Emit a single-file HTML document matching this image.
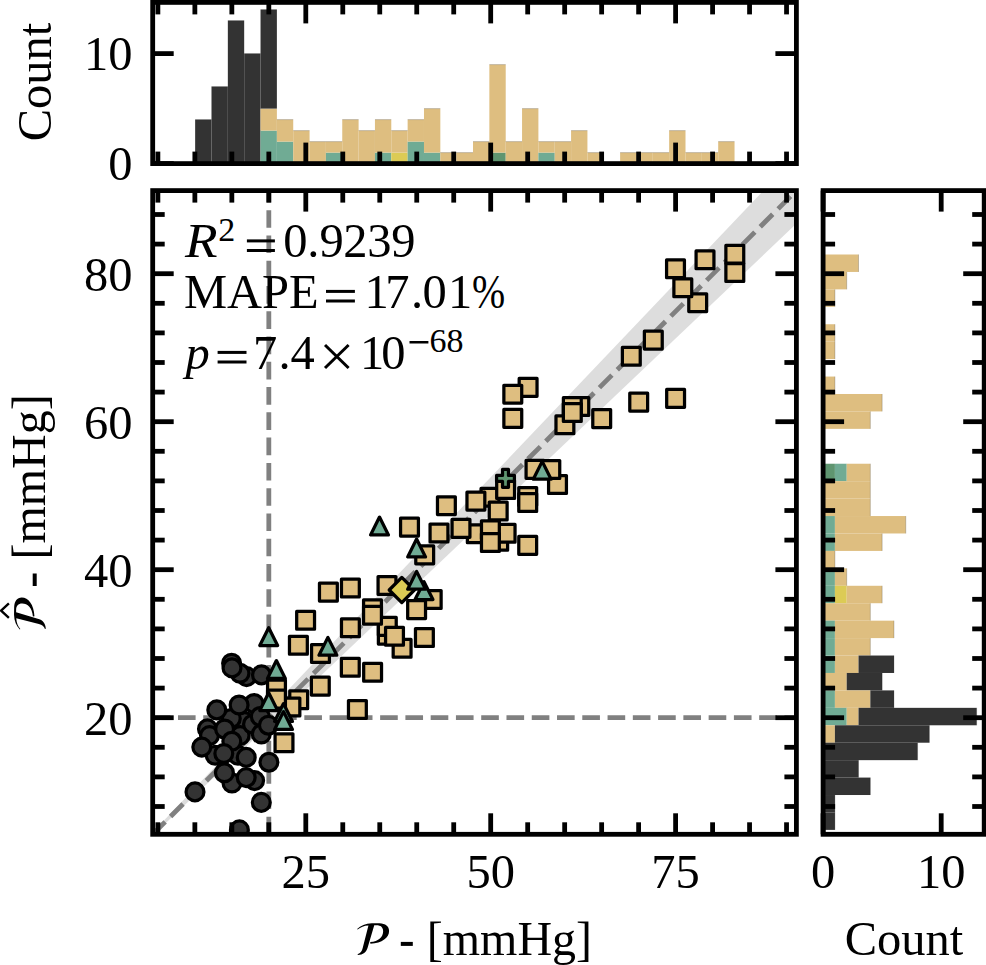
<!DOCTYPE html><html><head><meta charset="utf-8"><style>html,body{margin:0;padding:0;background:#fff;overflow:hidden;}svg{display:block;}</style></head><body><svg width="986" height="965" viewBox="0 0 986 965"><rect width="986" height="965" fill="#fff"/><defs><clipPath id="cm"><rect x="152.7" y="190.6" width="643.7" height="643.7"/></clipPath></defs><rect x="195.15" y="119.6" width="16.34" height="44" fill="#333333"/><rect x="211.5" y="86.6" width="16.34" height="77" fill="#333333"/><rect x="227.84" y="20.6" width="16.34" height="143" fill="#333333"/><rect x="244.19" y="53.6" width="16.34" height="110" fill="#333333"/><rect x="260.53" y="130.6" width="16.35" height="33" fill="#70AB94"/><rect x="260.53" y="108.6" width="16.35" height="22" fill="#DEBE80"/><rect x="260.53" y="9.6" width="16.35" height="99" fill="#333333"/><rect x="276.88" y="141.6" width="16.35" height="22" fill="#70AB94"/><rect x="276.88" y="119.6" width="16.35" height="22" fill="#DEBE80"/><rect x="293.22" y="130.6" width="16.35" height="33" fill="#DEBE80"/><rect x="309.56" y="141.6" width="16.34" height="22" fill="#DEBE80"/><rect x="325.91" y="152.6" width="16.35" height="11" fill="#70AB94"/><rect x="325.91" y="141.6" width="16.35" height="11" fill="#DEBE80"/><rect x="342.25" y="119.6" width="16.35" height="44" fill="#DEBE80"/><rect x="358.6" y="130.6" width="16.35" height="33" fill="#DEBE80"/><rect x="374.94" y="152.6" width="16.34" height="11" fill="#70AB94"/><rect x="374.94" y="119.6" width="16.34" height="33" fill="#DEBE80"/><rect x="391.29" y="152.6" width="16.35" height="11" fill="#DCCB55"/><rect x="391.29" y="130.6" width="16.35" height="22" fill="#DEBE80"/><rect x="407.63" y="141.6" width="16.35" height="22" fill="#70AB94"/><rect x="407.63" y="119.6" width="16.35" height="22" fill="#DEBE80"/><rect x="423.98" y="152.6" width="16.35" height="11" fill="#70AB94"/><rect x="423.98" y="108.6" width="16.35" height="44" fill="#DEBE80"/><rect x="440.32" y="152.6" width="16.34" height="11" fill="#DEBE80"/><rect x="456.67" y="152.6" width="16.35" height="11" fill="#DEBE80"/><rect x="473.01" y="141.6" width="16.35" height="22" fill="#DEBE80"/><rect x="489.36" y="152.6" width="16.35" height="11" fill="#5F9570"/><rect x="489.36" y="64.6" width="16.35" height="88" fill="#DEBE80"/><rect x="505.7" y="141.6" width="16.35" height="22" fill="#DEBE80"/><rect x="522.05" y="108.6" width="16.35" height="55" fill="#DEBE80"/><rect x="538.39" y="152.6" width="16.35" height="11" fill="#70AB94"/><rect x="538.39" y="141.6" width="16.35" height="11" fill="#DEBE80"/><rect x="554.74" y="141.6" width="16.35" height="22" fill="#DEBE80"/><rect x="571.08" y="130.6" width="16.35" height="33" fill="#DEBE80"/><rect x="587.43" y="152.6" width="16.35" height="11" fill="#DEBE80"/><rect x="620.12" y="152.6" width="16.35" height="11" fill="#DEBE80"/><rect x="636.46" y="152.6" width="16.35" height="11" fill="#DEBE80"/><rect x="652.81" y="152.6" width="16.35" height="11" fill="#DEBE80"/><rect x="669.15" y="130.6" width="16.35" height="33" fill="#DEBE80"/><rect x="685.5" y="152.6" width="16.35" height="11" fill="#DEBE80"/><rect x="701.84" y="152.6" width="16.35" height="11" fill="#DEBE80"/><rect x="718.19" y="141.6" width="16.35" height="22" fill="#DEBE80"/><rect x="823.1" y="254.5" width="35.43" height="17.44" fill="#DEBE80"/><rect x="823.1" y="271.94" width="23.62" height="17.44" fill="#DEBE80"/><rect x="823.1" y="289.37" width="11.81" height="17.44" fill="#DEBE80"/><rect x="823.1" y="324.24" width="11.81" height="17.44" fill="#DEBE80"/><rect x="823.1" y="341.68" width="11.81" height="17.44" fill="#DEBE80"/><rect x="823.1" y="376.55" width="11.81" height="17.44" fill="#DEBE80"/><rect x="823.1" y="393.99" width="59.05" height="17.44" fill="#DEBE80"/><rect x="823.1" y="411.42" width="47.24" height="17.44" fill="#DEBE80"/><rect x="823.1" y="463.73" width="11.81" height="17.44" fill="#5F9570"/><rect x="834.91" y="463.73" width="11.81" height="17.44" fill="#70AB94"/><rect x="846.72" y="463.73" width="23.62" height="17.44" fill="#DEBE80"/><rect x="823.1" y="481.17" width="47.24" height="17.44" fill="#DEBE80"/><rect x="823.1" y="498.6" width="47.24" height="17.44" fill="#DEBE80"/><rect x="823.1" y="516.04" width="11.81" height="17.44" fill="#70AB94"/><rect x="834.91" y="516.04" width="70.86" height="17.44" fill="#DEBE80"/><rect x="823.1" y="533.48" width="11.81" height="17.44" fill="#70AB94"/><rect x="834.91" y="533.48" width="47.24" height="17.44" fill="#DEBE80"/><rect x="823.1" y="550.91" width="11.81" height="17.44" fill="#DEBE80"/><rect x="823.1" y="568.35" width="11.81" height="17.44" fill="#70AB94"/><rect x="834.91" y="568.35" width="11.81" height="17.44" fill="#DEBE80"/><rect x="823.1" y="585.78" width="11.81" height="17.44" fill="#70AB94"/><rect x="834.91" y="585.78" width="11.81" height="17.44" fill="#DCCB55"/><rect x="846.72" y="585.78" width="35.43" height="17.44" fill="#DEBE80"/><rect x="823.1" y="603.22" width="47.24" height="17.44" fill="#DEBE80"/><rect x="823.1" y="620.66" width="11.81" height="17.44" fill="#70AB94"/><rect x="834.91" y="620.66" width="59.05" height="17.44" fill="#DEBE80"/><rect x="823.1" y="638.09" width="11.81" height="17.44" fill="#70AB94"/><rect x="834.91" y="638.09" width="35.43" height="17.44" fill="#DEBE80"/><rect x="823.1" y="655.53" width="11.81" height="17.44" fill="#70AB94"/><rect x="834.91" y="655.53" width="23.62" height="17.44" fill="#DEBE80"/><rect x="858.53" y="655.53" width="35.43" height="17.44" fill="#333333"/><rect x="823.1" y="672.96" width="23.62" height="17.44" fill="#DEBE80"/><rect x="846.72" y="672.96" width="35.43" height="17.44" fill="#333333"/><rect x="823.1" y="690.4" width="11.81" height="17.44" fill="#70AB94"/><rect x="834.91" y="690.4" width="35.43" height="17.44" fill="#DEBE80"/><rect x="870.34" y="690.4" width="23.62" height="17.44" fill="#333333"/><rect x="823.1" y="707.84" width="23.62" height="17.44" fill="#70AB94"/><rect x="846.72" y="707.84" width="11.81" height="17.44" fill="#DEBE80"/><rect x="858.53" y="707.84" width="118.1" height="17.44" fill="#333333"/><rect x="823.1" y="725.27" width="11.81" height="17.44" fill="#DEBE80"/><rect x="834.91" y="725.27" width="94.48" height="17.44" fill="#333333"/><rect x="823.1" y="742.71" width="94.48" height="17.44" fill="#333333"/><rect x="823.1" y="760.14" width="35.43" height="17.44" fill="#333333"/><rect x="823.1" y="777.58" width="47.24" height="17.44" fill="#333333"/><rect x="823.1" y="795.02" width="11.81" height="17.44" fill="#333333"/><rect x="823.1" y="812.45" width="11.81" height="17.44" fill="#333333"/><line x1="195.15" y1="119.6" x2="211.5" y2="119.6" stroke="rgba(0,0,0,0.28)" stroke-width="0.7" stroke-linecap="butt"/><line x1="211.5" y1="86.6" x2="227.84" y2="86.6" stroke="rgba(0,0,0,0.28)" stroke-width="0.7" stroke-linecap="butt"/><line x1="227.84" y1="20.6" x2="244.19" y2="20.6" stroke="rgba(0,0,0,0.28)" stroke-width="0.7" stroke-linecap="butt"/><line x1="244.19" y1="53.6" x2="260.53" y2="53.6" stroke="rgba(0,0,0,0.28)" stroke-width="0.7" stroke-linecap="butt"/><line x1="260.53" y1="9.6" x2="276.88" y2="9.6" stroke="rgba(0,0,0,0.28)" stroke-width="0.7" stroke-linecap="butt"/><line x1="276.88" y1="119.6" x2="293.22" y2="119.6" stroke="rgba(0,0,0,0.28)" stroke-width="0.7" stroke-linecap="butt"/><line x1="293.22" y1="130.6" x2="309.57" y2="130.6" stroke="rgba(0,0,0,0.28)" stroke-width="0.7" stroke-linecap="butt"/><line x1="309.56" y1="141.6" x2="325.91" y2="141.6" stroke="rgba(0,0,0,0.28)" stroke-width="0.7" stroke-linecap="butt"/><line x1="325.91" y1="141.6" x2="342.25" y2="141.6" stroke="rgba(0,0,0,0.28)" stroke-width="0.7" stroke-linecap="butt"/><line x1="342.25" y1="119.6" x2="358.6" y2="119.6" stroke="rgba(0,0,0,0.28)" stroke-width="0.7" stroke-linecap="butt"/><line x1="358.6" y1="130.6" x2="374.95" y2="130.6" stroke="rgba(0,0,0,0.28)" stroke-width="0.7" stroke-linecap="butt"/><line x1="374.94" y1="119.6" x2="391.29" y2="119.6" stroke="rgba(0,0,0,0.28)" stroke-width="0.7" stroke-linecap="butt"/><line x1="391.29" y1="130.6" x2="407.63" y2="130.6" stroke="rgba(0,0,0,0.28)" stroke-width="0.7" stroke-linecap="butt"/><line x1="407.63" y1="119.6" x2="423.98" y2="119.6" stroke="rgba(0,0,0,0.28)" stroke-width="0.7" stroke-linecap="butt"/><line x1="423.98" y1="108.6" x2="440.33" y2="108.6" stroke="rgba(0,0,0,0.28)" stroke-width="0.7" stroke-linecap="butt"/><line x1="440.32" y1="152.6" x2="456.67" y2="152.6" stroke="rgba(0,0,0,0.28)" stroke-width="0.7" stroke-linecap="butt"/><line x1="456.67" y1="152.6" x2="473.01" y2="152.6" stroke="rgba(0,0,0,0.28)" stroke-width="0.7" stroke-linecap="butt"/><line x1="473.01" y1="141.6" x2="489.36" y2="141.6" stroke="rgba(0,0,0,0.28)" stroke-width="0.7" stroke-linecap="butt"/><line x1="489.36" y1="64.6" x2="505.71" y2="64.6" stroke="rgba(0,0,0,0.28)" stroke-width="0.7" stroke-linecap="butt"/><line x1="505.7" y1="141.6" x2="522.05" y2="141.6" stroke="rgba(0,0,0,0.28)" stroke-width="0.7" stroke-linecap="butt"/><line x1="522.05" y1="108.6" x2="538.39" y2="108.6" stroke="rgba(0,0,0,0.28)" stroke-width="0.7" stroke-linecap="butt"/><line x1="538.39" y1="141.6" x2="554.74" y2="141.6" stroke="rgba(0,0,0,0.28)" stroke-width="0.7" stroke-linecap="butt"/><line x1="554.74" y1="141.6" x2="571.09" y2="141.6" stroke="rgba(0,0,0,0.28)" stroke-width="0.7" stroke-linecap="butt"/><line x1="571.08" y1="130.6" x2="587.43" y2="130.6" stroke="rgba(0,0,0,0.28)" stroke-width="0.7" stroke-linecap="butt"/><line x1="587.43" y1="152.6" x2="603.77" y2="152.6" stroke="rgba(0,0,0,0.28)" stroke-width="0.7" stroke-linecap="butt"/><line x1="620.12" y1="152.6" x2="636.47" y2="152.6" stroke="rgba(0,0,0,0.28)" stroke-width="0.7" stroke-linecap="butt"/><line x1="636.46" y1="152.6" x2="652.81" y2="152.6" stroke="rgba(0,0,0,0.28)" stroke-width="0.7" stroke-linecap="butt"/><line x1="652.81" y1="152.6" x2="669.15" y2="152.6" stroke="rgba(0,0,0,0.28)" stroke-width="0.7" stroke-linecap="butt"/><line x1="669.15" y1="130.6" x2="685.5" y2="130.6" stroke="rgba(0,0,0,0.28)" stroke-width="0.7" stroke-linecap="butt"/><line x1="685.5" y1="152.6" x2="701.85" y2="152.6" stroke="rgba(0,0,0,0.28)" stroke-width="0.7" stroke-linecap="butt"/><line x1="701.84" y1="152.6" x2="718.19" y2="152.6" stroke="rgba(0,0,0,0.28)" stroke-width="0.7" stroke-linecap="butt"/><line x1="718.19" y1="141.6" x2="734.53" y2="141.6" stroke="rgba(0,0,0,0.28)" stroke-width="0.7" stroke-linecap="butt"/><line x1="858.53" y1="254.5" x2="858.53" y2="271.94" stroke="rgba(0,0,0,0.28)" stroke-width="0.7" stroke-linecap="butt"/><line x1="846.72" y1="271.94" x2="846.72" y2="289.37" stroke="rgba(0,0,0,0.28)" stroke-width="0.7" stroke-linecap="butt"/><line x1="834.91" y1="289.37" x2="834.91" y2="306.81" stroke="rgba(0,0,0,0.28)" stroke-width="0.7" stroke-linecap="butt"/><line x1="834.91" y1="324.24" x2="834.91" y2="341.68" stroke="rgba(0,0,0,0.28)" stroke-width="0.7" stroke-linecap="butt"/><line x1="834.91" y1="341.68" x2="834.91" y2="359.12" stroke="rgba(0,0,0,0.28)" stroke-width="0.7" stroke-linecap="butt"/><line x1="834.91" y1="376.55" x2="834.91" y2="393.99" stroke="rgba(0,0,0,0.28)" stroke-width="0.7" stroke-linecap="butt"/><line x1="882.15" y1="393.99" x2="882.15" y2="411.42" stroke="rgba(0,0,0,0.28)" stroke-width="0.7" stroke-linecap="butt"/><line x1="870.34" y1="411.42" x2="870.34" y2="428.86" stroke="rgba(0,0,0,0.28)" stroke-width="0.7" stroke-linecap="butt"/><line x1="870.34" y1="463.73" x2="870.34" y2="481.17" stroke="rgba(0,0,0,0.28)" stroke-width="0.7" stroke-linecap="butt"/><line x1="870.34" y1="481.17" x2="870.34" y2="498.6" stroke="rgba(0,0,0,0.28)" stroke-width="0.7" stroke-linecap="butt"/><line x1="870.34" y1="498.6" x2="870.34" y2="516.04" stroke="rgba(0,0,0,0.28)" stroke-width="0.7" stroke-linecap="butt"/><line x1="905.77" y1="516.04" x2="905.77" y2="533.48" stroke="rgba(0,0,0,0.28)" stroke-width="0.7" stroke-linecap="butt"/><line x1="882.15" y1="533.48" x2="882.15" y2="550.91" stroke="rgba(0,0,0,0.28)" stroke-width="0.7" stroke-linecap="butt"/><line x1="834.91" y1="550.91" x2="834.91" y2="568.35" stroke="rgba(0,0,0,0.28)" stroke-width="0.7" stroke-linecap="butt"/><line x1="846.72" y1="568.35" x2="846.72" y2="585.78" stroke="rgba(0,0,0,0.28)" stroke-width="0.7" stroke-linecap="butt"/><line x1="882.15" y1="585.78" x2="882.15" y2="603.22" stroke="rgba(0,0,0,0.28)" stroke-width="0.7" stroke-linecap="butt"/><line x1="870.34" y1="603.22" x2="870.34" y2="620.66" stroke="rgba(0,0,0,0.28)" stroke-width="0.7" stroke-linecap="butt"/><line x1="893.96" y1="620.66" x2="893.96" y2="638.09" stroke="rgba(0,0,0,0.28)" stroke-width="0.7" stroke-linecap="butt"/><line x1="870.34" y1="638.09" x2="870.34" y2="655.53" stroke="rgba(0,0,0,0.28)" stroke-width="0.7" stroke-linecap="butt"/><line x1="893.96" y1="655.53" x2="893.96" y2="672.96" stroke="rgba(0,0,0,0.28)" stroke-width="0.7" stroke-linecap="butt"/><line x1="882.15" y1="672.96" x2="882.15" y2="690.4" stroke="rgba(0,0,0,0.28)" stroke-width="0.7" stroke-linecap="butt"/><line x1="893.96" y1="690.4" x2="893.96" y2="707.84" stroke="rgba(0,0,0,0.28)" stroke-width="0.7" stroke-linecap="butt"/><line x1="976.63" y1="707.84" x2="976.63" y2="725.27" stroke="rgba(0,0,0,0.28)" stroke-width="0.7" stroke-linecap="butt"/><line x1="929.39" y1="725.27" x2="929.39" y2="742.71" stroke="rgba(0,0,0,0.28)" stroke-width="0.7" stroke-linecap="butt"/><line x1="917.58" y1="742.71" x2="917.58" y2="760.14" stroke="rgba(0,0,0,0.28)" stroke-width="0.7" stroke-linecap="butt"/><line x1="858.53" y1="760.14" x2="858.53" y2="777.58" stroke="rgba(0,0,0,0.28)" stroke-width="0.7" stroke-linecap="butt"/><line x1="870.34" y1="777.58" x2="870.34" y2="795.02" stroke="rgba(0,0,0,0.28)" stroke-width="0.7" stroke-linecap="butt"/><line x1="834.91" y1="795.02" x2="834.91" y2="812.45" stroke="rgba(0,0,0,0.28)" stroke-width="0.7" stroke-linecap="butt"/><line x1="834.91" y1="812.45" x2="834.91" y2="829.89" stroke="rgba(0,0,0,0.28)" stroke-width="0.7" stroke-linecap="butt"/><g clip-path="url(#cm)"><polygon points="143.09,842.39 823.52,127.55 823.52,197.85 143.09,844.61" fill="#DDDDDD"/><line x1="152.7" y1="834.3" x2="796.4" y2="190.6" stroke="#808080" stroke-width="4.8" stroke-linecap="butt" stroke-dasharray="17.64 7.63"/><line x1="268.82" y1="834.3" x2="268.82" y2="190.6" stroke="#808080" stroke-width="4.8" stroke-linecap="butt" stroke-dasharray="17.64 7.63"/><line x1="152.7" y1="717.7" x2="796.4" y2="717.7" stroke="#808080" stroke-width="4.8" stroke-linecap="butt" stroke-dasharray="17.64 7.63"/><text x="184.9" y="257.3" text-anchor="start" style="font-family:'Liberation Serif',serif;font-size:48.5px;font-style:italic;" textLength="32.6" lengthAdjust="spacingAndGlyphs">R</text><text x="218.23" y="241" text-anchor="start" style="font-family:'Liberation Serif',serif;font-size:34px;">2</text><rect x="246.9" y="239.4" width="28" height="3" fill="#000"/><rect x="246.9" y="249" width="28" height="3" fill="#000"/><text x="283.2" y="257.3" text-anchor="start" style="font-family:'Liberation Serif',serif;font-size:48.5px;">0</text><text x="307.3" y="257.3" text-anchor="start" style="font-family:'Liberation Serif',serif;font-size:48.5px;">.</text><text x="319.6" y="257.3" text-anchor="start" style="font-family:'Liberation Serif',serif;font-size:48.5px;">9</text><text x="343.2" y="257.3" text-anchor="start" style="font-family:'Liberation Serif',serif;font-size:48.5px;">2</text><text x="367.2" y="257.3" text-anchor="start" style="font-family:'Liberation Serif',serif;font-size:48.5px;">3</text><text x="391.3" y="257.3" text-anchor="start" style="font-family:'Liberation Serif',serif;font-size:48.5px;">9</text><text x="183.9" y="307.8" text-anchor="start" style="font-family:'Liberation Serif',serif;font-size:48.5px;">MAPE</text><rect x="326" y="289.9" width="28.9" height="3" fill="#000"/><rect x="326" y="299.5" width="28.9" height="3" fill="#000"/><text x="364.6" y="307.8" text-anchor="start" style="font-family:'Liberation Serif',serif;font-size:48.5px;">1</text><text x="385.2" y="307.8" text-anchor="start" style="font-family:'Liberation Serif',serif;font-size:48.5px;">7</text><text x="411.1" y="307.8" text-anchor="start" style="font-family:'Liberation Serif',serif;font-size:48.5px;">.</text><text x="422.6" y="307.8" text-anchor="start" style="font-family:'Liberation Serif',serif;font-size:48.5px;">0</text><text x="448" y="307.8" text-anchor="start" style="font-family:'Liberation Serif',serif;font-size:48.5px;">1</text><text x="472" y="307.8" text-anchor="start" style="font-family:'Liberation Serif',serif;font-size:48.5px;" textLength="33.2" lengthAdjust="spacingAndGlyphs">%</text><text x="185.4" y="368.8" text-anchor="start" style="font-family:'Liberation Serif',serif;font-size:48.5px;font-style:italic;">p</text><rect x="217.6" y="350.9" width="28.9" height="3" fill="#000"/><rect x="217.6" y="360.5" width="28.9" height="3" fill="#000"/><text x="253" y="368.8" text-anchor="start" style="font-family:'Liberation Serif',serif;font-size:48.5px;">7</text><text x="278.4" y="368.8" text-anchor="start" style="font-family:'Liberation Serif',serif;font-size:48.5px;">.</text><text x="290.5" y="368.8" text-anchor="start" style="font-family:'Liberation Serif',serif;font-size:48.5px;">4</text><text x="360.1" y="368.8" text-anchor="start" style="font-family:'Liberation Serif',serif;font-size:48.5px;">1</text><text x="381.3" y="368.8" text-anchor="start" style="font-family:'Liberation Serif',serif;font-size:48.5px;">0</text><line x1="325" y1="345" x2="348.6" y2="368" stroke="#000" stroke-width="3" stroke-linecap="butt"/><line x1="325" y1="368" x2="348.6" y2="345" stroke="#000" stroke-width="3" stroke-linecap="butt"/><rect x="409.5" y="341" width="18.9" height="2.5" fill="#000"/><text x="429.53" y="351.5" text-anchor="start" style="font-family:'Liberation Serif',serif;font-size:34px;">6</text><text x="446.44" y="351.5" text-anchor="start" style="font-family:'Liberation Serif',serif;font-size:34px;">8</text><circle cx="246.6" cy="676.6" r="8.93" fill="#333333" stroke="#000" stroke-width="3.25"/><circle cx="240" cy="673.3" r="8.93" fill="#333333" stroke="#000" stroke-width="3.25"/><circle cx="231.6" cy="663.2" r="8.93" fill="#333333" stroke="#000" stroke-width="3.25"/><circle cx="232" cy="667.9" r="8.93" fill="#333333" stroke="#000" stroke-width="3.25"/><circle cx="261.5" cy="674.9" r="8.93" fill="#333333" stroke="#000" stroke-width="3.25"/><circle cx="254.1" cy="703.5" r="8.93" fill="#333333" stroke="#000" stroke-width="3.25"/><circle cx="244.5" cy="721.5" r="8.93" fill="#333333" stroke="#000" stroke-width="3.25"/><circle cx="231.3" cy="718.5" r="8.93" fill="#333333" stroke="#000" stroke-width="3.25"/><circle cx="207.5" cy="728.9" r="8.93" fill="#333333" stroke="#000" stroke-width="3.25"/><circle cx="209.5" cy="735.6" r="8.93" fill="#333333" stroke="#000" stroke-width="3.25"/><circle cx="240.1" cy="735.6" r="8.93" fill="#333333" stroke="#000" stroke-width="3.25"/><circle cx="252.5" cy="724.2" r="8.93" fill="#333333" stroke="#000" stroke-width="3.25"/><circle cx="260.3" cy="716.5" r="8.93" fill="#333333" stroke="#000" stroke-width="3.25"/><circle cx="261.3" cy="734" r="8.93" fill="#333333" stroke="#000" stroke-width="3.25"/><circle cx="215.2" cy="755.3" r="8.93" fill="#333333" stroke="#000" stroke-width="3.25"/><circle cx="238" cy="755.3" r="8.93" fill="#333333" stroke="#000" stroke-width="3.25"/><circle cx="254.6" cy="780.6" r="8.93" fill="#333333" stroke="#000" stroke-width="3.25"/><circle cx="232" cy="783" r="8.93" fill="#333333" stroke="#000" stroke-width="3.25"/><circle cx="239.1" cy="705" r="8.93" fill="#333333" stroke="#000" stroke-width="3.25"/><circle cx="216.8" cy="709.9" r="8.93" fill="#333333" stroke="#000" stroke-width="3.25"/><circle cx="224.6" cy="729" r="8.93" fill="#333333" stroke="#000" stroke-width="3.25"/><circle cx="201.8" cy="747.1" r="8.93" fill="#333333" stroke="#000" stroke-width="3.25"/><circle cx="231.8" cy="741.3" r="8.93" fill="#333333" stroke="#000" stroke-width="3.25"/><circle cx="268.4" cy="725.2" r="8.93" fill="#333333" stroke="#000" stroke-width="3.25"/><circle cx="223.8" cy="753.5" r="8.93" fill="#333333" stroke="#000" stroke-width="3.25"/><circle cx="246.2" cy="757.4" r="8.93" fill="#333333" stroke="#000" stroke-width="3.25"/><circle cx="268.9" cy="762.2" r="8.93" fill="#333333" stroke="#000" stroke-width="3.25"/><circle cx="224.4" cy="772.8" r="8.93" fill="#333333" stroke="#000" stroke-width="3.25"/><circle cx="246.2" cy="777.6" r="8.93" fill="#333333" stroke="#000" stroke-width="3.25"/><circle cx="195" cy="791.9" r="8.93" fill="#333333" stroke="#000" stroke-width="3.25"/><circle cx="261.3" cy="802.4" r="8.93" fill="#333333" stroke="#000" stroke-width="3.25"/><circle cx="239.4" cy="829.9" r="8.93" fill="#333333" stroke="#000" stroke-width="3.25"/><rect x="666.58" y="259.88" width="17.85" height="17.85" fill="#DEBE80" stroke="#000" stroke-width="3.25" stroke-linejoin="round"/><rect x="696.08" y="250.88" width="17.85" height="17.85" fill="#DEBE80" stroke="#000" stroke-width="3.25" stroke-linejoin="round"/><rect x="725.88" y="245.38" width="17.85" height="17.85" fill="#DEBE80" stroke="#000" stroke-width="3.25" stroke-linejoin="round"/><rect x="725.88" y="263.57" width="17.85" height="17.85" fill="#DEBE80" stroke="#000" stroke-width="3.25" stroke-linejoin="round"/><rect x="688.78" y="293.77" width="17.85" height="17.85" fill="#DEBE80" stroke="#000" stroke-width="3.25" stroke-linejoin="round"/><rect x="673.88" y="278.88" width="17.85" height="17.85" fill="#DEBE80" stroke="#000" stroke-width="3.25" stroke-linejoin="round"/><rect x="644.38" y="331.18" width="17.85" height="17.85" fill="#DEBE80" stroke="#000" stroke-width="3.25" stroke-linejoin="round"/><rect x="622.38" y="347.38" width="17.85" height="17.85" fill="#DEBE80" stroke="#000" stroke-width="3.25" stroke-linejoin="round"/><rect x="629.78" y="393.18" width="17.85" height="17.85" fill="#DEBE80" stroke="#000" stroke-width="3.25" stroke-linejoin="round"/><rect x="666.68" y="389.47" width="17.85" height="17.85" fill="#DEBE80" stroke="#000" stroke-width="3.25" stroke-linejoin="round"/><rect x="592.78" y="409.68" width="17.85" height="17.85" fill="#DEBE80" stroke="#000" stroke-width="3.25" stroke-linejoin="round"/><rect x="570.88" y="397.57" width="17.85" height="17.85" fill="#DEBE80" stroke="#000" stroke-width="3.25" stroke-linejoin="round"/><rect x="563.38" y="397.68" width="17.85" height="17.85" fill="#DEBE80" stroke="#000" stroke-width="3.25" stroke-linejoin="round"/><rect x="555.98" y="415.88" width="17.85" height="17.85" fill="#DEBE80" stroke="#000" stroke-width="3.25" stroke-linejoin="round"/><rect x="563.38" y="403.57" width="17.85" height="17.85" fill="#DEBE80" stroke="#000" stroke-width="3.25" stroke-linejoin="round"/><rect x="519.18" y="378.47" width="17.85" height="17.85" fill="#DEBE80" stroke="#000" stroke-width="3.25" stroke-linejoin="round"/><rect x="503.87" y="385.27" width="17.85" height="17.85" fill="#DEBE80" stroke="#000" stroke-width="3.25" stroke-linejoin="round"/><rect x="503.87" y="409.47" width="17.85" height="17.85" fill="#DEBE80" stroke="#000" stroke-width="3.25" stroke-linejoin="round"/><rect x="548.58" y="475.57" width="17.85" height="17.85" fill="#DEBE80" stroke="#000" stroke-width="3.25" stroke-linejoin="round"/><rect x="526.08" y="460.47" width="17.85" height="17.85" fill="#DEBE80" stroke="#000" stroke-width="3.25" stroke-linejoin="round"/><rect x="541.88" y="460.57" width="17.85" height="17.85" fill="#DEBE80" stroke="#000" stroke-width="3.25" stroke-linejoin="round"/><rect x="481.07" y="488.27" width="17.85" height="17.85" fill="#DEBE80" stroke="#000" stroke-width="3.25" stroke-linejoin="round"/><rect x="496.68" y="480.57" width="17.85" height="17.85" fill="#DEBE80" stroke="#000" stroke-width="3.25" stroke-linejoin="round"/><rect x="518.78" y="487.57" width="17.85" height="17.85" fill="#DEBE80" stroke="#000" stroke-width="3.25" stroke-linejoin="round"/><rect x="518.78" y="493.57" width="17.85" height="17.85" fill="#DEBE80" stroke="#000" stroke-width="3.25" stroke-linejoin="round"/><rect x="466.97" y="492.18" width="17.85" height="17.85" fill="#DEBE80" stroke="#000" stroke-width="3.25" stroke-linejoin="round"/><rect x="489.27" y="502.07" width="17.85" height="17.85" fill="#DEBE80" stroke="#000" stroke-width="3.25" stroke-linejoin="round"/><rect x="437.47" y="496.77" width="17.85" height="17.85" fill="#DEBE80" stroke="#000" stroke-width="3.25" stroke-linejoin="round"/><rect x="400.57" y="518.18" width="17.85" height="17.85" fill="#DEBE80" stroke="#000" stroke-width="3.25" stroke-linejoin="round"/><rect x="430.07" y="524.08" width="17.85" height="17.85" fill="#DEBE80" stroke="#000" stroke-width="3.25" stroke-linejoin="round"/><rect x="467.38" y="524.88" width="17.85" height="17.85" fill="#DEBE80" stroke="#000" stroke-width="3.25" stroke-linejoin="round"/><rect x="452.07" y="519.48" width="17.85" height="17.85" fill="#DEBE80" stroke="#000" stroke-width="3.25" stroke-linejoin="round"/><rect x="489.77" y="532.38" width="17.85" height="17.85" fill="#DEBE80" stroke="#000" stroke-width="3.25" stroke-linejoin="round"/><rect x="497.18" y="524.38" width="17.85" height="17.85" fill="#DEBE80" stroke="#000" stroke-width="3.25" stroke-linejoin="round"/><rect x="481.47" y="520.78" width="17.85" height="17.85" fill="#DEBE80" stroke="#000" stroke-width="3.25" stroke-linejoin="round"/><rect x="481.47" y="533.58" width="17.85" height="17.85" fill="#DEBE80" stroke="#000" stroke-width="3.25" stroke-linejoin="round"/><rect x="518.78" y="536.48" width="17.85" height="17.85" fill="#DEBE80" stroke="#000" stroke-width="3.25" stroke-linejoin="round"/><rect x="415.77" y="545.98" width="17.85" height="17.85" fill="#DEBE80" stroke="#000" stroke-width="3.25" stroke-linejoin="round"/><rect x="423.27" y="590.58" width="17.85" height="17.85" fill="#DEBE80" stroke="#000" stroke-width="3.25" stroke-linejoin="round"/><rect x="407.68" y="600.68" width="17.85" height="17.85" fill="#DEBE80" stroke="#000" stroke-width="3.25" stroke-linejoin="round"/><rect x="378.07" y="576.58" width="17.85" height="17.85" fill="#DEBE80" stroke="#000" stroke-width="3.25" stroke-linejoin="round"/><rect x="341.47" y="579.08" width="17.85" height="17.85" fill="#DEBE80" stroke="#000" stroke-width="3.25" stroke-linejoin="round"/><rect x="319.47" y="583.18" width="17.85" height="17.85" fill="#DEBE80" stroke="#000" stroke-width="3.25" stroke-linejoin="round"/><rect x="378.38" y="626.18" width="17.85" height="17.85" fill="#DEBE80" stroke="#000" stroke-width="3.25" stroke-linejoin="round"/><rect x="378.38" y="617.48" width="17.85" height="17.85" fill="#DEBE80" stroke="#000" stroke-width="3.25" stroke-linejoin="round"/><rect x="363.57" y="599.88" width="17.85" height="17.85" fill="#DEBE80" stroke="#000" stroke-width="3.25" stroke-linejoin="round"/><rect x="363.57" y="606.28" width="17.85" height="17.85" fill="#DEBE80" stroke="#000" stroke-width="3.25" stroke-linejoin="round"/><rect x="393.18" y="639.38" width="17.85" height="17.85" fill="#DEBE80" stroke="#000" stroke-width="3.25" stroke-linejoin="round"/><rect x="385.57" y="627.28" width="17.85" height="17.85" fill="#DEBE80" stroke="#000" stroke-width="3.25" stroke-linejoin="round"/><rect x="415.47" y="628.58" width="17.85" height="17.85" fill="#DEBE80" stroke="#000" stroke-width="3.25" stroke-linejoin="round"/><rect x="341.47" y="618.88" width="17.85" height="17.85" fill="#DEBE80" stroke="#000" stroke-width="3.25" stroke-linejoin="round"/><rect x="296.68" y="611.38" width="17.85" height="17.85" fill="#DEBE80" stroke="#000" stroke-width="3.25" stroke-linejoin="round"/><rect x="289.47" y="636.28" width="17.85" height="17.85" fill="#DEBE80" stroke="#000" stroke-width="3.25" stroke-linejoin="round"/><rect x="311.57" y="644.58" width="17.85" height="17.85" fill="#DEBE80" stroke="#000" stroke-width="3.25" stroke-linejoin="round"/><rect x="341.38" y="658.38" width="17.85" height="17.85" fill="#DEBE80" stroke="#000" stroke-width="3.25" stroke-linejoin="round"/><rect x="363.68" y="663.38" width="17.85" height="17.85" fill="#DEBE80" stroke="#000" stroke-width="3.25" stroke-linejoin="round"/><rect x="311.38" y="677.18" width="17.85" height="17.85" fill="#DEBE80" stroke="#000" stroke-width="3.25" stroke-linejoin="round"/><rect x="348.47" y="700.58" width="17.85" height="17.85" fill="#DEBE80" stroke="#000" stroke-width="3.25" stroke-linejoin="round"/><rect x="289.77" y="690.88" width="17.85" height="17.85" fill="#DEBE80" stroke="#000" stroke-width="3.25" stroke-linejoin="round"/><rect x="281.97" y="698.08" width="17.85" height="17.85" fill="#DEBE80" stroke="#000" stroke-width="3.25" stroke-linejoin="round"/><rect x="267.57" y="680.18" width="17.85" height="17.85" fill="#DEBE80" stroke="#000" stroke-width="3.25" stroke-linejoin="round"/><rect x="267.57" y="690.18" width="17.85" height="17.85" fill="#DEBE80" stroke="#000" stroke-width="3.25" stroke-linejoin="round"/><rect x="275.07" y="733.78" width="17.85" height="17.85" fill="#DEBE80" stroke="#000" stroke-width="3.25" stroke-linejoin="round"/><polygon points="401.8,577.38 414.42,590 401.8,602.62 389.18,590" fill="#DCCB55" stroke="#000" stroke-width="3.25" stroke-linejoin="round"/><polygon points="268.7,627.68 259.77,645.52 277.62,645.52" fill="#70AB94" stroke="#000" stroke-width="3.25" stroke-linejoin="round"/><polygon points="276.4,660.58 267.47,678.42 285.32,678.42" fill="#70AB94" stroke="#000" stroke-width="3.25" stroke-linejoin="round"/><polygon points="268.7,692.68 259.77,710.52 277.62,710.52" fill="#70AB94" stroke="#000" stroke-width="3.25" stroke-linejoin="round"/><polygon points="283.5,703.58 274.57,721.42 292.43,721.42" fill="#70AB94" stroke="#000" stroke-width="3.25" stroke-linejoin="round"/><polygon points="283.5,711.58 274.57,729.42 292.43,729.42" fill="#70AB94" stroke="#000" stroke-width="3.25" stroke-linejoin="round"/><polygon points="327.9,637.38 318.97,655.22 336.82,655.22" fill="#70AB94" stroke="#000" stroke-width="3.25" stroke-linejoin="round"/><polygon points="379.5,517.08 370.57,534.92 388.43,534.92" fill="#70AB94" stroke="#000" stroke-width="3.25" stroke-linejoin="round"/><polygon points="416.6,539.08 407.68,556.92 425.53,556.92" fill="#70AB94" stroke="#000" stroke-width="3.25" stroke-linejoin="round"/><polygon points="424,581.68 415.07,599.52 432.93,599.52" fill="#70AB94" stroke="#000" stroke-width="3.25" stroke-linejoin="round"/><polygon points="416.6,571.38 407.68,589.22 425.53,589.22" fill="#70AB94" stroke="#000" stroke-width="3.25" stroke-linejoin="round"/><polygon points="542.2,461.38 533.28,479.23 551.12,479.23" fill="#70AB94" stroke="#000" stroke-width="3.25" stroke-linejoin="round"/><polygon points="502.52,469.47 508.48,469.47 508.48,475.42 514.42,475.42 514.42,481.38 508.48,481.38 508.48,487.32 502.52,487.32 502.52,481.38 496.57,481.38 496.57,475.42 502.52,475.42" fill="#5F9570" stroke="#000" stroke-width="3.25" stroke-linejoin="round"/></g><line x1="305.8" y1="163.6" x2="305.8" y2="142.6" stroke="#000" stroke-width="4.8" stroke-linecap="butt"/><line x1="305.8" y1="2.4" x2="305.8" y2="23.4" stroke="#000" stroke-width="4.8" stroke-linecap="butt"/><line x1="490.7" y1="163.6" x2="490.7" y2="142.6" stroke="#000" stroke-width="4.8" stroke-linecap="butt"/><line x1="490.7" y1="2.4" x2="490.7" y2="23.4" stroke="#000" stroke-width="4.8" stroke-linecap="butt"/><line x1="675.6" y1="163.6" x2="675.6" y2="142.6" stroke="#000" stroke-width="4.8" stroke-linecap="butt"/><line x1="675.6" y1="2.4" x2="675.6" y2="23.4" stroke="#000" stroke-width="4.8" stroke-linecap="butt"/><line x1="157.88" y1="163.6" x2="157.88" y2="151.6" stroke="#000" stroke-width="4.8" stroke-linecap="butt"/><line x1="157.88" y1="2.4" x2="157.88" y2="14.4" stroke="#000" stroke-width="4.8" stroke-linecap="butt"/><line x1="194.86" y1="163.6" x2="194.86" y2="151.6" stroke="#000" stroke-width="4.8" stroke-linecap="butt"/><line x1="194.86" y1="2.4" x2="194.86" y2="14.4" stroke="#000" stroke-width="4.8" stroke-linecap="butt"/><line x1="231.84" y1="163.6" x2="231.84" y2="151.6" stroke="#000" stroke-width="4.8" stroke-linecap="butt"/><line x1="231.84" y1="2.4" x2="231.84" y2="14.4" stroke="#000" stroke-width="4.8" stroke-linecap="butt"/><line x1="268.82" y1="163.6" x2="268.82" y2="151.6" stroke="#000" stroke-width="4.8" stroke-linecap="butt"/><line x1="268.82" y1="2.4" x2="268.82" y2="14.4" stroke="#000" stroke-width="4.8" stroke-linecap="butt"/><line x1="342.78" y1="163.6" x2="342.78" y2="151.6" stroke="#000" stroke-width="4.8" stroke-linecap="butt"/><line x1="342.78" y1="2.4" x2="342.78" y2="14.4" stroke="#000" stroke-width="4.8" stroke-linecap="butt"/><line x1="379.76" y1="163.6" x2="379.76" y2="151.6" stroke="#000" stroke-width="4.8" stroke-linecap="butt"/><line x1="379.76" y1="2.4" x2="379.76" y2="14.4" stroke="#000" stroke-width="4.8" stroke-linecap="butt"/><line x1="416.74" y1="163.6" x2="416.74" y2="151.6" stroke="#000" stroke-width="4.8" stroke-linecap="butt"/><line x1="416.74" y1="2.4" x2="416.74" y2="14.4" stroke="#000" stroke-width="4.8" stroke-linecap="butt"/><line x1="453.72" y1="163.6" x2="453.72" y2="151.6" stroke="#000" stroke-width="4.8" stroke-linecap="butt"/><line x1="453.72" y1="2.4" x2="453.72" y2="14.4" stroke="#000" stroke-width="4.8" stroke-linecap="butt"/><line x1="527.68" y1="163.6" x2="527.68" y2="151.6" stroke="#000" stroke-width="4.8" stroke-linecap="butt"/><line x1="527.68" y1="2.4" x2="527.68" y2="14.4" stroke="#000" stroke-width="4.8" stroke-linecap="butt"/><line x1="564.66" y1="163.6" x2="564.66" y2="151.6" stroke="#000" stroke-width="4.8" stroke-linecap="butt"/><line x1="564.66" y1="2.4" x2="564.66" y2="14.4" stroke="#000" stroke-width="4.8" stroke-linecap="butt"/><line x1="601.64" y1="163.6" x2="601.64" y2="151.6" stroke="#000" stroke-width="4.8" stroke-linecap="butt"/><line x1="601.64" y1="2.4" x2="601.64" y2="14.4" stroke="#000" stroke-width="4.8" stroke-linecap="butt"/><line x1="638.62" y1="163.6" x2="638.62" y2="151.6" stroke="#000" stroke-width="4.8" stroke-linecap="butt"/><line x1="638.62" y1="2.4" x2="638.62" y2="14.4" stroke="#000" stroke-width="4.8" stroke-linecap="butt"/><line x1="712.58" y1="163.6" x2="712.58" y2="151.6" stroke="#000" stroke-width="4.8" stroke-linecap="butt"/><line x1="712.58" y1="2.4" x2="712.58" y2="14.4" stroke="#000" stroke-width="4.8" stroke-linecap="butt"/><line x1="749.56" y1="163.6" x2="749.56" y2="151.6" stroke="#000" stroke-width="4.8" stroke-linecap="butt"/><line x1="749.56" y1="2.4" x2="749.56" y2="14.4" stroke="#000" stroke-width="4.8" stroke-linecap="butt"/><line x1="786.54" y1="163.6" x2="786.54" y2="151.6" stroke="#000" stroke-width="4.8" stroke-linecap="butt"/><line x1="786.54" y1="2.4" x2="786.54" y2="14.4" stroke="#000" stroke-width="4.8" stroke-linecap="butt"/><line x1="305.8" y1="834.3" x2="305.8" y2="813.3" stroke="#000" stroke-width="4.8" stroke-linecap="butt"/><line x1="305.8" y1="190.6" x2="305.8" y2="211.6" stroke="#000" stroke-width="4.8" stroke-linecap="butt"/><line x1="490.7" y1="834.3" x2="490.7" y2="813.3" stroke="#000" stroke-width="4.8" stroke-linecap="butt"/><line x1="490.7" y1="190.6" x2="490.7" y2="211.6" stroke="#000" stroke-width="4.8" stroke-linecap="butt"/><line x1="675.6" y1="834.3" x2="675.6" y2="813.3" stroke="#000" stroke-width="4.8" stroke-linecap="butt"/><line x1="675.6" y1="190.6" x2="675.6" y2="211.6" stroke="#000" stroke-width="4.8" stroke-linecap="butt"/><line x1="157.88" y1="834.3" x2="157.88" y2="822.3" stroke="#000" stroke-width="4.8" stroke-linecap="butt"/><line x1="157.88" y1="190.6" x2="157.88" y2="202.6" stroke="#000" stroke-width="4.8" stroke-linecap="butt"/><line x1="194.86" y1="834.3" x2="194.86" y2="822.3" stroke="#000" stroke-width="4.8" stroke-linecap="butt"/><line x1="194.86" y1="190.6" x2="194.86" y2="202.6" stroke="#000" stroke-width="4.8" stroke-linecap="butt"/><line x1="231.84" y1="834.3" x2="231.84" y2="822.3" stroke="#000" stroke-width="4.8" stroke-linecap="butt"/><line x1="231.84" y1="190.6" x2="231.84" y2="202.6" stroke="#000" stroke-width="4.8" stroke-linecap="butt"/><line x1="268.82" y1="834.3" x2="268.82" y2="822.3" stroke="#000" stroke-width="4.8" stroke-linecap="butt"/><line x1="268.82" y1="190.6" x2="268.82" y2="202.6" stroke="#000" stroke-width="4.8" stroke-linecap="butt"/><line x1="342.78" y1="834.3" x2="342.78" y2="822.3" stroke="#000" stroke-width="4.8" stroke-linecap="butt"/><line x1="342.78" y1="190.6" x2="342.78" y2="202.6" stroke="#000" stroke-width="4.8" stroke-linecap="butt"/><line x1="379.76" y1="834.3" x2="379.76" y2="822.3" stroke="#000" stroke-width="4.8" stroke-linecap="butt"/><line x1="379.76" y1="190.6" x2="379.76" y2="202.6" stroke="#000" stroke-width="4.8" stroke-linecap="butt"/><line x1="416.74" y1="834.3" x2="416.74" y2="822.3" stroke="#000" stroke-width="4.8" stroke-linecap="butt"/><line x1="416.74" y1="190.6" x2="416.74" y2="202.6" stroke="#000" stroke-width="4.8" stroke-linecap="butt"/><line x1="453.72" y1="834.3" x2="453.72" y2="822.3" stroke="#000" stroke-width="4.8" stroke-linecap="butt"/><line x1="453.72" y1="190.6" x2="453.72" y2="202.6" stroke="#000" stroke-width="4.8" stroke-linecap="butt"/><line x1="527.68" y1="834.3" x2="527.68" y2="822.3" stroke="#000" stroke-width="4.8" stroke-linecap="butt"/><line x1="527.68" y1="190.6" x2="527.68" y2="202.6" stroke="#000" stroke-width="4.8" stroke-linecap="butt"/><line x1="564.66" y1="834.3" x2="564.66" y2="822.3" stroke="#000" stroke-width="4.8" stroke-linecap="butt"/><line x1="564.66" y1="190.6" x2="564.66" y2="202.6" stroke="#000" stroke-width="4.8" stroke-linecap="butt"/><line x1="601.64" y1="834.3" x2="601.64" y2="822.3" stroke="#000" stroke-width="4.8" stroke-linecap="butt"/><line x1="601.64" y1="190.6" x2="601.64" y2="202.6" stroke="#000" stroke-width="4.8" stroke-linecap="butt"/><line x1="638.62" y1="834.3" x2="638.62" y2="822.3" stroke="#000" stroke-width="4.8" stroke-linecap="butt"/><line x1="638.62" y1="190.6" x2="638.62" y2="202.6" stroke="#000" stroke-width="4.8" stroke-linecap="butt"/><line x1="712.58" y1="834.3" x2="712.58" y2="822.3" stroke="#000" stroke-width="4.8" stroke-linecap="butt"/><line x1="712.58" y1="190.6" x2="712.58" y2="202.6" stroke="#000" stroke-width="4.8" stroke-linecap="butt"/><line x1="749.56" y1="834.3" x2="749.56" y2="822.3" stroke="#000" stroke-width="4.8" stroke-linecap="butt"/><line x1="749.56" y1="190.6" x2="749.56" y2="202.6" stroke="#000" stroke-width="4.8" stroke-linecap="butt"/><line x1="786.54" y1="834.3" x2="786.54" y2="822.3" stroke="#000" stroke-width="4.8" stroke-linecap="butt"/><line x1="786.54" y1="190.6" x2="786.54" y2="202.6" stroke="#000" stroke-width="4.8" stroke-linecap="butt"/><line x1="152.7" y1="717.7" x2="173.7" y2="717.7" stroke="#000" stroke-width="4.8" stroke-linecap="butt"/><line x1="796.4" y1="717.7" x2="775.4" y2="717.7" stroke="#000" stroke-width="4.8" stroke-linecap="butt"/><line x1="152.7" y1="569.7" x2="173.7" y2="569.7" stroke="#000" stroke-width="4.8" stroke-linecap="butt"/><line x1="796.4" y1="569.7" x2="775.4" y2="569.7" stroke="#000" stroke-width="4.8" stroke-linecap="butt"/><line x1="152.7" y1="421.7" x2="173.7" y2="421.7" stroke="#000" stroke-width="4.8" stroke-linecap="butt"/><line x1="796.4" y1="421.7" x2="775.4" y2="421.7" stroke="#000" stroke-width="4.8" stroke-linecap="butt"/><line x1="152.7" y1="273.7" x2="173.7" y2="273.7" stroke="#000" stroke-width="4.8" stroke-linecap="butt"/><line x1="796.4" y1="273.7" x2="775.4" y2="273.7" stroke="#000" stroke-width="4.8" stroke-linecap="butt"/><line x1="152.7" y1="806.5" x2="164.7" y2="806.5" stroke="#000" stroke-width="4.8" stroke-linecap="butt"/><line x1="796.4" y1="806.5" x2="784.4" y2="806.5" stroke="#000" stroke-width="4.8" stroke-linecap="butt"/><line x1="152.7" y1="776.9" x2="164.7" y2="776.9" stroke="#000" stroke-width="4.8" stroke-linecap="butt"/><line x1="796.4" y1="776.9" x2="784.4" y2="776.9" stroke="#000" stroke-width="4.8" stroke-linecap="butt"/><line x1="152.7" y1="747.3" x2="164.7" y2="747.3" stroke="#000" stroke-width="4.8" stroke-linecap="butt"/><line x1="796.4" y1="747.3" x2="784.4" y2="747.3" stroke="#000" stroke-width="4.8" stroke-linecap="butt"/><line x1="152.7" y1="688.1" x2="164.7" y2="688.1" stroke="#000" stroke-width="4.8" stroke-linecap="butt"/><line x1="796.4" y1="688.1" x2="784.4" y2="688.1" stroke="#000" stroke-width="4.8" stroke-linecap="butt"/><line x1="152.7" y1="658.5" x2="164.7" y2="658.5" stroke="#000" stroke-width="4.8" stroke-linecap="butt"/><line x1="796.4" y1="658.5" x2="784.4" y2="658.5" stroke="#000" stroke-width="4.8" stroke-linecap="butt"/><line x1="152.7" y1="628.9" x2="164.7" y2="628.9" stroke="#000" stroke-width="4.8" stroke-linecap="butt"/><line x1="796.4" y1="628.9" x2="784.4" y2="628.9" stroke="#000" stroke-width="4.8" stroke-linecap="butt"/><line x1="152.7" y1="599.3" x2="164.7" y2="599.3" stroke="#000" stroke-width="4.8" stroke-linecap="butt"/><line x1="796.4" y1="599.3" x2="784.4" y2="599.3" stroke="#000" stroke-width="4.8" stroke-linecap="butt"/><line x1="152.7" y1="540.1" x2="164.7" y2="540.1" stroke="#000" stroke-width="4.8" stroke-linecap="butt"/><line x1="796.4" y1="540.1" x2="784.4" y2="540.1" stroke="#000" stroke-width="4.8" stroke-linecap="butt"/><line x1="152.7" y1="510.5" x2="164.7" y2="510.5" stroke="#000" stroke-width="4.8" stroke-linecap="butt"/><line x1="796.4" y1="510.5" x2="784.4" y2="510.5" stroke="#000" stroke-width="4.8" stroke-linecap="butt"/><line x1="152.7" y1="480.9" x2="164.7" y2="480.9" stroke="#000" stroke-width="4.8" stroke-linecap="butt"/><line x1="796.4" y1="480.9" x2="784.4" y2="480.9" stroke="#000" stroke-width="4.8" stroke-linecap="butt"/><line x1="152.7" y1="451.3" x2="164.7" y2="451.3" stroke="#000" stroke-width="4.8" stroke-linecap="butt"/><line x1="796.4" y1="451.3" x2="784.4" y2="451.3" stroke="#000" stroke-width="4.8" stroke-linecap="butt"/><line x1="152.7" y1="392.1" x2="164.7" y2="392.1" stroke="#000" stroke-width="4.8" stroke-linecap="butt"/><line x1="796.4" y1="392.1" x2="784.4" y2="392.1" stroke="#000" stroke-width="4.8" stroke-linecap="butt"/><line x1="152.7" y1="362.5" x2="164.7" y2="362.5" stroke="#000" stroke-width="4.8" stroke-linecap="butt"/><line x1="796.4" y1="362.5" x2="784.4" y2="362.5" stroke="#000" stroke-width="4.8" stroke-linecap="butt"/><line x1="152.7" y1="332.9" x2="164.7" y2="332.9" stroke="#000" stroke-width="4.8" stroke-linecap="butt"/><line x1="796.4" y1="332.9" x2="784.4" y2="332.9" stroke="#000" stroke-width="4.8" stroke-linecap="butt"/><line x1="152.7" y1="303.3" x2="164.7" y2="303.3" stroke="#000" stroke-width="4.8" stroke-linecap="butt"/><line x1="796.4" y1="303.3" x2="784.4" y2="303.3" stroke="#000" stroke-width="4.8" stroke-linecap="butt"/><line x1="152.7" y1="244.1" x2="164.7" y2="244.1" stroke="#000" stroke-width="4.8" stroke-linecap="butt"/><line x1="796.4" y1="244.1" x2="784.4" y2="244.1" stroke="#000" stroke-width="4.8" stroke-linecap="butt"/><line x1="152.7" y1="214.5" x2="164.7" y2="214.5" stroke="#000" stroke-width="4.8" stroke-linecap="butt"/><line x1="796.4" y1="214.5" x2="784.4" y2="214.5" stroke="#000" stroke-width="4.8" stroke-linecap="butt"/><line x1="823.1" y1="717.7" x2="844.1" y2="717.7" stroke="#000" stroke-width="4.8" stroke-linecap="butt"/><line x1="984.2" y1="717.7" x2="963.2" y2="717.7" stroke="#000" stroke-width="4.8" stroke-linecap="butt"/><line x1="823.1" y1="569.7" x2="844.1" y2="569.7" stroke="#000" stroke-width="4.8" stroke-linecap="butt"/><line x1="984.2" y1="569.7" x2="963.2" y2="569.7" stroke="#000" stroke-width="4.8" stroke-linecap="butt"/><line x1="823.1" y1="421.7" x2="844.1" y2="421.7" stroke="#000" stroke-width="4.8" stroke-linecap="butt"/><line x1="984.2" y1="421.7" x2="963.2" y2="421.7" stroke="#000" stroke-width="4.8" stroke-linecap="butt"/><line x1="823.1" y1="273.7" x2="844.1" y2="273.7" stroke="#000" stroke-width="4.8" stroke-linecap="butt"/><line x1="984.2" y1="273.7" x2="963.2" y2="273.7" stroke="#000" stroke-width="4.8" stroke-linecap="butt"/><line x1="823.1" y1="806.5" x2="835.1" y2="806.5" stroke="#000" stroke-width="4.8" stroke-linecap="butt"/><line x1="984.2" y1="806.5" x2="972.2" y2="806.5" stroke="#000" stroke-width="4.8" stroke-linecap="butt"/><line x1="823.1" y1="776.9" x2="835.1" y2="776.9" stroke="#000" stroke-width="4.8" stroke-linecap="butt"/><line x1="984.2" y1="776.9" x2="972.2" y2="776.9" stroke="#000" stroke-width="4.8" stroke-linecap="butt"/><line x1="823.1" y1="747.3" x2="835.1" y2="747.3" stroke="#000" stroke-width="4.8" stroke-linecap="butt"/><line x1="984.2" y1="747.3" x2="972.2" y2="747.3" stroke="#000" stroke-width="4.8" stroke-linecap="butt"/><line x1="823.1" y1="688.1" x2="835.1" y2="688.1" stroke="#000" stroke-width="4.8" stroke-linecap="butt"/><line x1="984.2" y1="688.1" x2="972.2" y2="688.1" stroke="#000" stroke-width="4.8" stroke-linecap="butt"/><line x1="823.1" y1="658.5" x2="835.1" y2="658.5" stroke="#000" stroke-width="4.8" stroke-linecap="butt"/><line x1="984.2" y1="658.5" x2="972.2" y2="658.5" stroke="#000" stroke-width="4.8" stroke-linecap="butt"/><line x1="823.1" y1="628.9" x2="835.1" y2="628.9" stroke="#000" stroke-width="4.8" stroke-linecap="butt"/><line x1="984.2" y1="628.9" x2="972.2" y2="628.9" stroke="#000" stroke-width="4.8" stroke-linecap="butt"/><line x1="823.1" y1="599.3" x2="835.1" y2="599.3" stroke="#000" stroke-width="4.8" stroke-linecap="butt"/><line x1="984.2" y1="599.3" x2="972.2" y2="599.3" stroke="#000" stroke-width="4.8" stroke-linecap="butt"/><line x1="823.1" y1="540.1" x2="835.1" y2="540.1" stroke="#000" stroke-width="4.8" stroke-linecap="butt"/><line x1="984.2" y1="540.1" x2="972.2" y2="540.1" stroke="#000" stroke-width="4.8" stroke-linecap="butt"/><line x1="823.1" y1="510.5" x2="835.1" y2="510.5" stroke="#000" stroke-width="4.8" stroke-linecap="butt"/><line x1="984.2" y1="510.5" x2="972.2" y2="510.5" stroke="#000" stroke-width="4.8" stroke-linecap="butt"/><line x1="823.1" y1="480.9" x2="835.1" y2="480.9" stroke="#000" stroke-width="4.8" stroke-linecap="butt"/><line x1="984.2" y1="480.9" x2="972.2" y2="480.9" stroke="#000" stroke-width="4.8" stroke-linecap="butt"/><line x1="823.1" y1="451.3" x2="835.1" y2="451.3" stroke="#000" stroke-width="4.8" stroke-linecap="butt"/><line x1="984.2" y1="451.3" x2="972.2" y2="451.3" stroke="#000" stroke-width="4.8" stroke-linecap="butt"/><line x1="823.1" y1="392.1" x2="835.1" y2="392.1" stroke="#000" stroke-width="4.8" stroke-linecap="butt"/><line x1="984.2" y1="392.1" x2="972.2" y2="392.1" stroke="#000" stroke-width="4.8" stroke-linecap="butt"/><line x1="823.1" y1="362.5" x2="835.1" y2="362.5" stroke="#000" stroke-width="4.8" stroke-linecap="butt"/><line x1="984.2" y1="362.5" x2="972.2" y2="362.5" stroke="#000" stroke-width="4.8" stroke-linecap="butt"/><line x1="823.1" y1="332.9" x2="835.1" y2="332.9" stroke="#000" stroke-width="4.8" stroke-linecap="butt"/><line x1="984.2" y1="332.9" x2="972.2" y2="332.9" stroke="#000" stroke-width="4.8" stroke-linecap="butt"/><line x1="823.1" y1="303.3" x2="835.1" y2="303.3" stroke="#000" stroke-width="4.8" stroke-linecap="butt"/><line x1="984.2" y1="303.3" x2="972.2" y2="303.3" stroke="#000" stroke-width="4.8" stroke-linecap="butt"/><line x1="823.1" y1="244.1" x2="835.1" y2="244.1" stroke="#000" stroke-width="4.8" stroke-linecap="butt"/><line x1="984.2" y1="244.1" x2="972.2" y2="244.1" stroke="#000" stroke-width="4.8" stroke-linecap="butt"/><line x1="823.1" y1="214.5" x2="835.1" y2="214.5" stroke="#000" stroke-width="4.8" stroke-linecap="butt"/><line x1="984.2" y1="214.5" x2="972.2" y2="214.5" stroke="#000" stroke-width="4.8" stroke-linecap="butt"/><line x1="152.7" y1="163.6" x2="173.7" y2="163.6" stroke="#000" stroke-width="4.8" stroke-linecap="butt"/><line x1="796.4" y1="163.6" x2="775.4" y2="163.6" stroke="#000" stroke-width="4.8" stroke-linecap="butt"/><line x1="152.7" y1="53.6" x2="173.7" y2="53.6" stroke="#000" stroke-width="4.8" stroke-linecap="butt"/><line x1="796.4" y1="53.6" x2="775.4" y2="53.6" stroke="#000" stroke-width="4.8" stroke-linecap="butt"/><line x1="823.1" y1="834.3" x2="823.1" y2="813.3" stroke="#000" stroke-width="4.8" stroke-linecap="butt"/><line x1="823.1" y1="190.6" x2="823.1" y2="211.6" stroke="#000" stroke-width="4.8" stroke-linecap="butt"/><line x1="941.2" y1="834.3" x2="941.2" y2="813.3" stroke="#000" stroke-width="4.8" stroke-linecap="butt"/><line x1="941.2" y1="190.6" x2="941.2" y2="211.6" stroke="#000" stroke-width="4.8" stroke-linecap="butt"/><rect x="152.7" y="2.4" width="643.7" height="161.2" fill="none" stroke="#000" stroke-width="4.8"/><rect x="152.7" y="190.6" width="643.7" height="643.7" fill="none" stroke="#000" stroke-width="4.8"/><rect x="823.1" y="190.6" width="161.1" height="643.7" fill="none" stroke="#000" stroke-width="4.8"/><text x="305.8" y="887.9" text-anchor="middle" style="font-family:'Liberation Serif',serif;font-size:48.5px;">25</text><text x="490.7" y="887.9" text-anchor="middle" style="font-family:'Liberation Serif',serif;font-size:48.5px;">50</text><text x="675.6" y="887.9" text-anchor="middle" style="font-family:'Liberation Serif',serif;font-size:48.5px;">75</text><text x="823.1" y="887.9" text-anchor="middle" style="font-family:'Liberation Serif',serif;font-size:48.5px;">0</text><text x="941.2" y="887.9" text-anchor="middle" style="font-family:'Liberation Serif',serif;font-size:48.5px;">10</text><text x="132.4" y="734.5" text-anchor="end" style="font-family:'Liberation Serif',serif;font-size:48.5px;">20</text><text x="132.4" y="586.5" text-anchor="end" style="font-family:'Liberation Serif',serif;font-size:48.5px;">40</text><text x="132.4" y="438.5" text-anchor="end" style="font-family:'Liberation Serif',serif;font-size:48.5px;">60</text><text x="132.4" y="290.5" text-anchor="end" style="font-family:'Liberation Serif',serif;font-size:48.5px;">80</text><text x="132.4" y="69.9" text-anchor="end" style="font-family:'Liberation Serif',serif;font-size:48.5px;">10</text><text x="132.4" y="179.9" text-anchor="end" style="font-family:'Liberation Serif',serif;font-size:48.5px;">0</text><text x="904" y="955.2" text-anchor="middle" style="font-family:'Liberation Serif',serif;font-size:48.5px;">Count</text><text transform="translate(50.6,82.0) rotate(-90)" text-anchor="middle" style="font-family:'Liberation Serif',serif;font-size:48.5px;">Count</text><path transform="translate(357.1,954.5) scale(0.07) translate(-100,-626.83)" d="M 100 262 C 150 215 220 182 310 180 L 420 182 C 505 185 557 225 557 290 C 557 385 460 462 290 472 L 287 450 C 410 440 472 375 472 295 C 472 240 440 210 375 210 L 345 210 L 250 530 C 232 595 185 630 112 634 L 106 622 C 150 610 168 580 180 535 L 262 212 C 200 214 150 235 108 270 Z" fill="#000"/><rect x="400.8" y="941.9" width="12" height="4" fill="#000"/><text x="426.8" y="954.5" text-anchor="start" style="font-family:'Liberation Serif',serif;font-size:48.5px;" textLength="165.2" lengthAdjust="spacingAndGlyphs">[mmHg]</text><g transform="translate(45.3,0) rotate(-90)"><path transform="translate(-629.5,0) scale(0.07) translate(-100,-626.83)" d="M 100 262 C 150 215 220 182 310 180 L 420 182 C 505 185 557 225 557 290 C 557 385 460 462 290 472 L 287 450 C 410 440 472 375 472 295 C 472 240 440 210 375 210 L 345 210 L 250 530 C 232 595 185 630 112 634 L 106 622 C 150 610 168 580 180 535 L 262 212 C 200 214 150 235 108 270 Z" fill="#000"/><path d="M -617.8 -36.4 L -610.6 -44.2 L -603.4 -36.4" fill="none" stroke="#000" stroke-width="2.4" stroke-linejoin="miter"/><rect x="-586" y="-12.6" width="12.5" height="4" fill="#000"/><text x="-559.5" y="0" text-anchor="start" style="font-family:'Liberation Serif',serif;font-size:48.5px;" textLength="165.2" lengthAdjust="spacingAndGlyphs">[mmHg]</text></g></svg></body></html>
